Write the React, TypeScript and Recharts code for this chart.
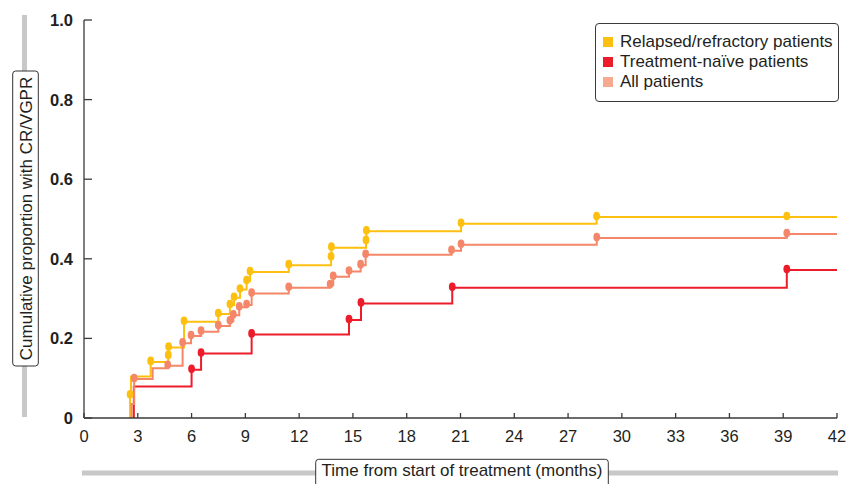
import React from 'react';
import { ComposedChart, Line, Scatter, XAxis, YAxis, Legend, Customized } from 'recharts';

// ---- data ----
const xTicks = [0, 3, 6, 9, 12, 15, 18, 21, 24, 27, 30, 33, 36, 39, 42];
const yTicks = [0, 0.2, 0.4, 0.6, 0.8, 1.0];

const seriesNames = ['Relapsed/refractory patients', 'Treatment-naïve patients', 'All patients'];
const lineColors = ['#FDC010', '#EC1C2B', '#F4876A'];
const legendColors = ['#FDC010', '#EC1C2B', '#F8AA90'];

const rrTimes = [2.57, 2.57, 2.62, 3.72, 4.7, 4.72, 5.58, 7.49, 8.14, 8.37, 8.7, 9.07, 9.26, 11.42, 13.78, 13.8, 15.73, 15.75, 21.03, 28.59, 39.2, 42];
const rrValues = [0, 0.057, 0.104, 0.141, 0.156, 0.177, 0.242, 0.261, 0.284, 0.302, 0.323, 0.344, 0.367, 0.384, 0.404, 0.428, 0.445, 0.469, 0.488, 0.505, 0.505, 0.505];
const rrMarks = [0, 1, 0, 1, 1, 1, 1, 1, 1, 1, 1, 1, 1, 1, 1, 1, 1, 1, 1, 1, 1, 0];

const tnTimes = [2.78, 2.78, 6.0, 6.53, 9.35, 14.78, 15.45, 20.54, 39.2, 42];
const tnValues = [0, 0.079, 0.121, 0.162, 0.21, 0.246, 0.288, 0.327, 0.372, 0.372];
const tnMarks = [0, 0, 1, 1, 1, 1, 1, 1, 1, 0];

const allTimes = [2.66, 2.66, 2.8, 3.83, 4.67, 5.5, 5.97, 6.53, 7.49, 8.14, 8.33, 8.66, 9.07, 9.35, 11.42, 13.73, 13.9, 14.78, 15.43, 15.71, 20.5, 21.03, 28.6, 39.2, 42];
const allValues = [0, 0.035, 0.098, 0.125, 0.131, 0.188, 0.206, 0.217, 0.231, 0.243, 0.258, 0.278, 0.284, 0.313, 0.327, 0.334, 0.355, 0.368, 0.384, 0.41, 0.42, 0.435, 0.452, 0.462, 0.462];
const allMarks = [0, 0, 1, 0, 1, 1, 1, 1, 1, 1, 1, 1, 1, 1, 1, 1, 1, 1, 1, 1, 1, 1, 1, 1, 0];

const build = (ts: number[], vs: number[]) => ts.map((t, i) => ({ t, p: vs[i] }));
const marked = (ts: number[], vs: number[], ms: number[]) =>
  ts.map((t, i) => ({ t, p: vs[i] })).filter((_, i) => ms[i] === 1);

const rrLine = build(rrTimes, rrValues);
const tnLine = build(tnTimes, tnValues);
const allLine = build(allTimes, allValues);
const rrDots = marked(rrTimes, rrValues, rrMarks);
const tnDots = marked(tnTimes, tnValues, tnMarks);
const allDots = marked(allTimes, allValues, allMarks);

const FONT = '"Liberation Sans", Arial, sans-serif';
const TEXT = '#231f20';
const AXIS = '#3a3a3a';

const pin = (color: string) => (props: any) => {
  const { cx, cy } = props;
  if (cx == null || cy == null) return <g />;
  return <ellipse cx={cx} cy={cy - 1} rx={3.4} ry={4.3} fill={color} />;
};

const fmtY = (v: number) => (v === 0 ? '0' : v.toFixed(1));

const YTick = (props: any) => {
  const { x, y, payload } = props;
  const ax = x + 11;
  return (
    <g>
      <line x1={ax} x2={ax + 8} y1={y} y2={y} stroke={AXIS} strokeWidth={1.3} />
      <text x={x} y={y} dy="0.36em" textAnchor="end" fontWeight="bold" fontSize={16.5} fill={TEXT} fontFamily={FONT}>
        {fmtY(payload.value)}
      </text>
    </g>
  );
};

const XTick = (props: any) => {
  const { x, y, payload } = props;
  const ay = y - 12;
  return (
    <g>
      <line x1={x} x2={x} y1={ay} y2={ay - 5} stroke={AXIS} strokeWidth={1.3} />
      <text x={x} y={y} dy="0.72em" textAnchor="middle" fontSize={16.5} fill={TEXT} fontFamily={FONT}>
        {payload.value}
      </text>
    </g>
  );
};

const Titles = () => (
  <g fontFamily={FONT}>
    <rect x={22} y={15} width={5} height={402} fill="#c8c8c8" />
    <rect x={12.7} y={71} width={25.6} height={295} rx={3} fill="#fff" stroke="#333" strokeWidth={1} />
    <text
      x={0}
      y={0}
      transform="translate(26,218.5) rotate(-90)"
      textAnchor="middle"
      dy="0.36em"
      fontSize={17}
      fill={TEXT}
    >
      Cumulative proportion with CR/VGPR
    </text>
    <rect x={82} y={470.5} width={756} height={5} fill="#c8c8c8" />
    <rect x={315.7} y={459.3} width={292.6} height={40} rx={3} fill="#fff" stroke="#333" strokeWidth={1} />
    <text x={462} y={475.8} textAnchor="middle" fontSize={17} fill={TEXT}>
      Time from start of treatment (months)
    </text>
  </g>
);

const LegendBox = () => (
  <div
    style={{
      boxSizing: 'border-box',
      width: 244,
      height: 79,
      border: '1px solid #3a3a3a',
      borderRadius: 4,
      background: '#fff',
      padding: '8px 0 0 7px',
      fontFamily: FONT,
      fontSize: 17,
      color: TEXT,
    }}
  >
    {seriesNames.map((n, i) => (
      <div key={n} style={{ display: 'flex', alignItems: 'center', height: 20, whiteSpace: 'nowrap' }}>
        <span style={{ display: 'inline-block', width: 10, height: 10, background: legendColors[i], marginRight: 7 }} />
        <span>{n}</span>
      </div>
    ))}
  </div>
);

export default function App() {
  return (
    <div style={{ position: 'absolute', left: 0, top: 0, width: 853, height: 484, background: '#fff' }}>
      <ComposedChart width={853} height={484} margin={{ top: 20, right: 16, left: 0, bottom: 0 }} style={{ fontFamily: FONT }}>
        <Customized component={Titles} />
        <XAxis
          dataKey="t"
          type="number"
          domain={[0, 42]}
          ticks={xTicks}
          interval={0}
          height={66}
          tickSize={0}
          tickMargin={12}
          tickLine={false}
          axisLine={{ stroke: AXIS, strokeWidth: 1.3 }}
          tick={<XTick />}
          allowDuplicatedCategory={false}
        />
        <YAxis
          dataKey="p"
          type="number"
          domain={[0, 1]}
          ticks={yTicks}
          interval={0}
          width={84}
          tickSize={0}
          tickMargin={11}
          tickLine={false}
          axisLine={{ stroke: AXIS, strokeWidth: 1.3 }}
          tick={<YTick />}
        />
        <Line data={rrLine} dataKey="p" type="stepAfter" stroke={lineColors[0]} strokeWidth={2} dot={false} activeDot={false} isAnimationActive={false} />
        <Line data={tnLine} dataKey="p" type="stepAfter" stroke={lineColors[1]} strokeWidth={2} dot={false} activeDot={false} isAnimationActive={false} />
        <Line data={allLine} dataKey="p" type="stepAfter" stroke={lineColors[2]} strokeWidth={2} dot={false} activeDot={false} isAnimationActive={false} />
        <Scatter data={rrDots} dataKey="p" shape={pin(lineColors[0])} isAnimationActive={false} />
        <Scatter data={tnDots} dataKey="p" shape={pin(lineColors[1])} isAnimationActive={false} />
        <Scatter data={allDots} dataKey="p" shape={pin(lineColors[2])} isAnimationActive={false} />
        <Legend
          layout="vertical"
          align="center"
          verticalAlign="middle"
          content={<LegendBox />}
          wrapperStyle={{ position: 'absolute', left: 595, top: 22.5, width: 244, height: 79, margin: 0 }}
        />
      </ComposedChart>
    </div>
  );
}
